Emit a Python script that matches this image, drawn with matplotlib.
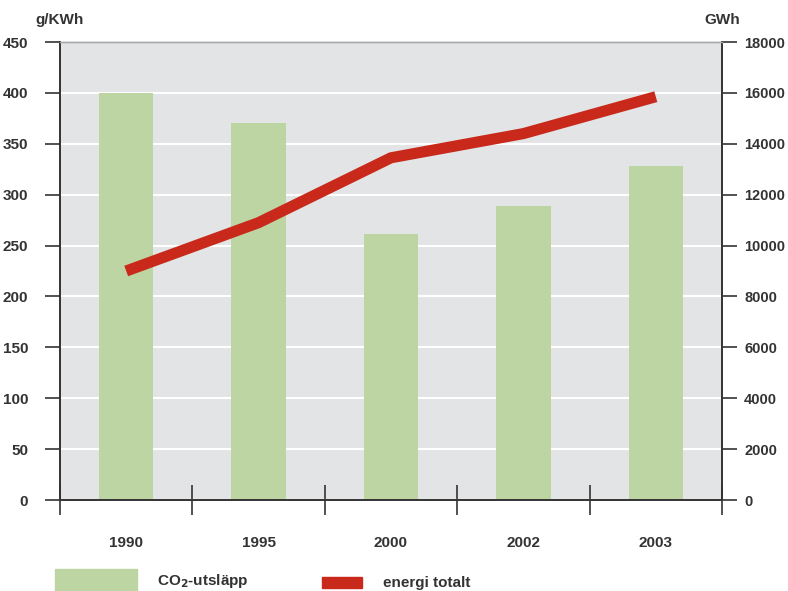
import numpy as np
import matplotlib
matplotlib.use("Agg")
import matplotlib.pyplot as plt
from matplotlib.patches import Rectangle

plt.rcParams['font.family'] = ['Liberation Sans', 'DejaVu Sans']
plt.rcParams['font.weight'] = 'bold'

# data
years = ['1990', '1995', '2000', '2002', '2003']
co2 = [400, 370, 261, 289, 328]            # g/KWh
energy = [9000, 10900, 13450, 14400, 15850]  # GWh

green = '#bdd5a2'
red = '#c8291b'
dark = '#333333'
fs = 11

fig = plt.figure(figsize=(7.88, 5.91), dpi=100)
ax = fig.add_axes([60 / 788, 91 / 591, 662 / 788, 458 / 591])
ax.set_facecolor('#e3e4e6')

x = np.arange(len(years))
ax.bar(x, co2, width=0.41, color=green, zorder=2)
ax.set_xlim(-0.5, len(years) - 0.5)
ax.set_ylim(0, 450)
ax.set_yticks(range(0, 451, 50))
ax.yaxis.grid(True, color='white', linewidth=1.5, zorder=1)
ax.set_axisbelow(True)

ax.set_xticks(x)
ax.set_xticklabels(years, fontsize=fs, fontweight='bold', color=dark)
ax.tick_params(axis='x', which='major', length=0, pad=26)
ax.set_xticks(np.arange(-0.5, len(years)), minor=True)
ax.tick_params(axis='x', which='minor', direction='inout', length=22, width=1.2, color=dark)
ax.tick_params(axis='y', length=11, width=1.2, color=dark, labelsize=fs, labelcolor=dark, pad=12)

ax2 = ax.twinx()
ax2.plot(x, energy, color=red, linewidth=8, solid_capstyle='butt', zorder=3)
ax2.set_ylim(0, 18000)
ax2.set_yticks(range(0, 18001, 2000))
ax2.tick_params(axis='y', length=11, width=1.2, color=dark, labelsize=10.5, labelcolor=dark, pad=5)

for a in (ax, ax2):
    for s in ('left', 'right', 'bottom'):
        a.spines[s].set_color(dark)
        a.spines[s].set_linewidth(1.2)
    a.spines['top'].set_color('#aaaaaa')
    a.spines['top'].set_linewidth(1)

fig.text(35 / 788, 1 - 20 / 591, 'g/KWh', fontsize=fs, fontweight='bold', color=dark, va='center', ha='left')
fig.text(740 / 788, 1 - 20 / 591, 'GWh', fontsize=fs, fontweight='bold', color=dark, va='center', ha='right')

# legend
fig.add_artist(Rectangle((55 / 788, 0), 82 / 788, 22 / 591, transform=fig.transFigure, color=green))
fig.text(157 / 788, 1 - 581 / 591, 'CO$_\\mathbf{2}$-utsläpp', fontsize=fs, fontweight='bold', color=dark, va='center')
fig.add_artist(Rectangle((322 / 788, 1 - 588 / 591), 40 / 788, 11 / 591, transform=fig.transFigure, color=red))
fig.text(383 / 788, 1 - 583 / 591, 'energi totalt', fontsize=fs, fontweight='bold', color=dark, va='center')

fig.savefig('out.png', dpi=100)
